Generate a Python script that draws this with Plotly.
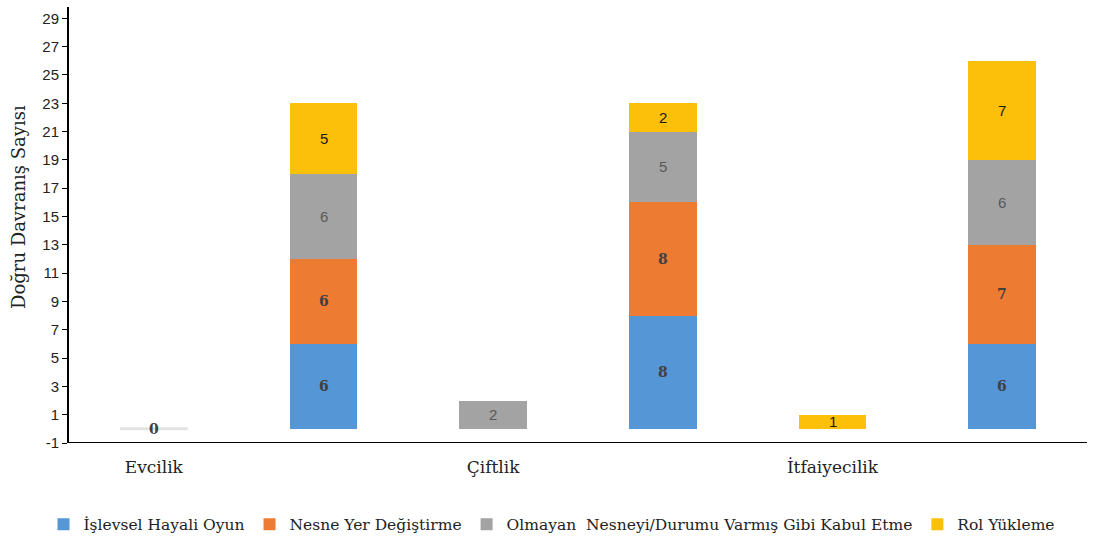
import plotly.graph_objects as go

positions = [0, 1, 2, 3, 4, 5]
category_labels = ["Evcilik", "Çiftlik", "İtfaiyecilik"]
category_positions = [0, 2, 4]
y_tick_values = [-1, 1, 3, 5, 7, 9, 11, 13, 15, 17, 19, 21, 23, 25, 27, 29]
y_tick_labels = ["-1", "1", "3", "5", "7", "9", "11", "13", "15", "17", "19", "21", "23", "25", "27", "29"]

series_names = [
    "İşlevsel Hayali Oyun",
    "Nesne Yer Değiştirme",
    "Olmayan  Nesneyi/Durumu Varmış Gibi Kabul Etme",
    "Rol Yükleme",
]
islevsel = [0, 6, 0, 8, 0, 6]
nesne = [0, 6, 0, 8, 0, 7]
olmayan = [0, 6, 2, 5, 0, 6]
rol = [0, 5, 0, 2, 1, 7]
series_values = [islevsel, nesne, olmayan, rol]

colors = ["#5596d6", "#ee7b32", "#a3a3a3", "#fcc00a"]
label_colors = ["#404040", "#404040", "#595959", "#1a1a1a"]
label_bold = [True, True, False, False]

fig = go.Figure()
for name, vals, col in zip(series_names, series_values, colors):
    fig.add_trace(go.Bar(
        x=positions, y=vals, name=name,
        marker=dict(color=col, line=dict(width=0)),
        width=0.4,
    ))

# data labels
bases = [0] * len(positions)
for si, vals in enumerate(series_values):
    for i, v in enumerate(vals):
        show = v > 0 or (si == 0 and all(s[i] == 0 for s in series_values))
        if show:
            txt = f"<b>{v}</b>" if label_bold[si] else str(v)
            fig.add_annotation(
                x=positions[i], y=bases[i] + v / 2, text=txt, showarrow=False,
                font=dict(family="DejaVu Serif" if label_bold[si] else "Liberation Sans",
                          size=14 if label_bold[si] else 15, color=label_colors[si]),
            )
            if v == 0:
                fig.add_shape(type="line", x0=positions[i] - 0.2, x1=positions[i] + 0.2,
                              y0=0, y1=0, line=dict(color="#e3e3e3", width=3), layer="below")
        bases[i] += v

fig.update_layout(
    barmode="stack",
    width=1104, height=542,
    margin=dict(l=69, r=17, t=7, b=99, autoexpand=False),
    paper_bgcolor="white", plot_bgcolor="white",
    showlegend=True,
    legend=dict(orientation="h", xref="container", x=0.5, xanchor="center",
                yref="container", y=0.032, yanchor="middle",
                font=dict(family="DejaVu Serif", size=15.5, color="#222"),
                itemwidth=30, traceorder="normal", tracegroupgap=0),
    xaxis=dict(range=[-0.5, 5.5], tickvals=category_positions, ticktext=category_labels,
               showline=False, showgrid=False, zeroline=False, ticks="", automargin=False,
               tickfont=dict(family="DejaVu Serif", size=17, color="#222"),
               ticklabelstandoff=12),
    yaxis=dict(range=[-1, 29.8], tickvals=y_tick_values, ticktext=y_tick_labels,
               showgrid=False, zeroline=False, automargin=False,
               showline=True, linecolor="black", linewidth=2, ticks="outside",
               ticklen=5, tickcolor="black", tickwidth=1,
               tickfont=dict(family="Liberation Sans", size=15, color="#222")),
)
fig.add_annotation(xref="paper", yref="paper", x=-51 / 1018, y=(443 - 207) / 436,
                   text="Doğru Davranış Sayısı", textangle=-90, showarrow=False,
                   xanchor="center", yanchor="middle",
                   font=dict(family="DejaVu Serif", size=18, color="#222"))
fig.add_shape(type="line", xref="paper", yref="y", x0=0, x1=1, y0=-1, y1=-1,
              line=dict(color="black", width=2))

fig.write_html("out.html", config={"displayModeBar": False},
               post_script="document.body.style.margin='0';")
